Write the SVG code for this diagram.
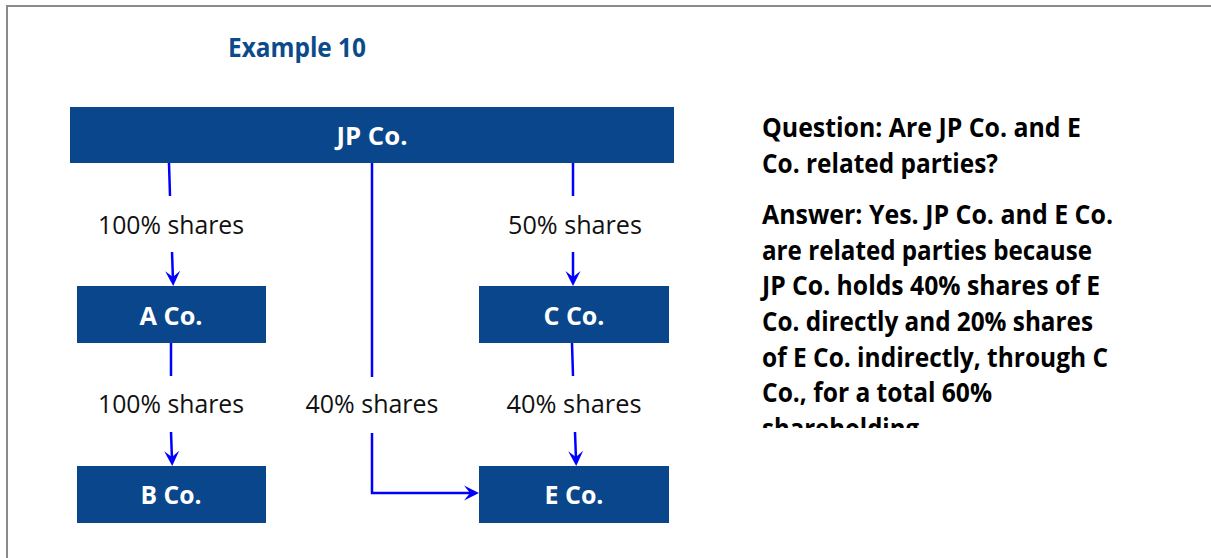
<svg xmlns="http://www.w3.org/2000/svg" width="1211" height="558" viewBox="0 0 1211 558">
  <defs>
    <style>
      .node { fill: #0a468b; }
      .node-label { font-family: "Open Sans", "Noto Sans", sans-serif; font-weight: 700; font-size: 25px; fill: #ffffff; text-anchor: middle; }
      .edge { fill: none; stroke: #0000ff; stroke-width: 2.5; }
      .edge-label { font-family: "Open Sans", "Noto Sans", sans-serif; font-size: 26px; fill: #111111; text-anchor: middle; }
      .title { font-family: "Open Sans", "Noto Sans", sans-serif; font-weight: 700; font-size: 26px; fill: #0b4a8b; text-anchor: middle; }
      .note { font-family: "Open Sans", "Noto Sans", sans-serif; font-weight: 700; font-size: 26px; fill: #000000; }
    </style>
    <marker id="arrow" markerUnits="userSpaceOnUse" viewBox="0 0 16 16" markerWidth="16" markerHeight="16" refX="10" refY="8" orient="auto">
      <path d="M16,8 L1,0.5 L7,8 L1,15.5 Z" fill="#0000ff"/>
    </marker>
    <clipPath id="note-clip">
      <rect x="740" y="100" width="471" height="328"/>
    </clipPath>
  </defs>

  <rect width="1211" height="558" fill="#ffffff"/>
  <!-- outer frame, running off the right and bottom edges -->
  <rect x="7" y="6" width="1230" height="580" fill="none" stroke="#8a8a8a" stroke-width="2"/>

  <text class="title" x="297" y="57" textLength="138" lengthAdjust="spacingAndGlyphs">Example 10</text>

  <g id="connectors">
    <!-- JP Co. to A Co. -->
    <line class="edge" x1="169" y1="163" x2="170" y2="196"/>
    <line class="edge" x1="172" y1="252" x2="173" y2="280" marker-end="url(#arrow)"/>
    <text class="edge-label" x="171" y="234" textLength="146" lengthAdjust="spacingAndGlyphs">100% shares</text>
    <!-- A Co. to B Co. -->
    <line class="edge" x1="171" y1="343" x2="171" y2="376"/>
    <line class="edge" x1="171" y1="432" x2="172" y2="460" marker-end="url(#arrow)"/>
    <text class="edge-label" x="171" y="413" textLength="146" lengthAdjust="spacingAndGlyphs">100% shares</text>
    <!-- JP Co. directly to E Co. -->
    <line class="edge" x1="372" y1="163" x2="372" y2="377"/>
    <polyline class="edge" points="372,433 372,493 473,493" marker-end="url(#arrow)"/>
    <text class="edge-label" x="372" y="413" textLength="133" lengthAdjust="spacingAndGlyphs">40% shares</text>
    <!-- JP Co. to C Co. -->
    <line class="edge" x1="573" y1="163" x2="573" y2="196"/>
    <line class="edge" x1="573" y1="252" x2="573" y2="280" marker-end="url(#arrow)"/>
    <text class="edge-label" x="575" y="234" textLength="134" lengthAdjust="spacingAndGlyphs">50% shares</text>
    <!-- C Co. to E Co. -->
    <line class="edge" x1="572" y1="343" x2="573" y2="376"/>
    <line class="edge" x1="575" y1="432" x2="576" y2="460" marker-end="url(#arrow)"/>
    <text class="edge-label" x="574" y="413" textLength="135" lengthAdjust="spacingAndGlyphs">40% shares</text>
  </g>

  <g id="node-jp">
    <rect class="node" x="70" y="107" width="604" height="56"/>
    <text class="node-label" x="372" y="145" textLength="71" lengthAdjust="spacingAndGlyphs">JP Co.</text>
  </g>
  <g id="node-a">
    <rect class="node" x="77" y="286" width="189" height="57"/>
    <text class="node-label" x="171" y="325" textLength="63" lengthAdjust="spacingAndGlyphs">A Co.</text>
  </g>
  <g id="node-c">
    <rect class="node" x="479" y="286" width="190" height="57"/>
    <text class="node-label" x="574" y="325" textLength="61" lengthAdjust="spacingAndGlyphs">C Co.</text>
  </g>
  <g id="node-b">
    <rect class="node" x="77" y="466" width="189" height="57"/>
    <text class="node-label" x="171" y="504" textLength="61" lengthAdjust="spacingAndGlyphs">B Co.</text>
  </g>
  <g id="node-e">
    <rect class="node" x="479" y="466" width="190" height="57"/>
    <text class="node-label" x="574" y="504" textLength="59" lengthAdjust="spacingAndGlyphs">E Co.</text>
  </g>

  <!-- question and answer panel, cut off at the bottom -->
  <g id="note" clip-path="url(#note-clip)">
    <text class="note" x="762" y="137" textLength="319" lengthAdjust="spacingAndGlyphs">Question: Are JP Co. and E</text>
    <text class="note" x="762" y="173" textLength="236" lengthAdjust="spacingAndGlyphs">Co. related parties?</text>
    <text class="note" x="762" y="224" textLength="351" lengthAdjust="spacingAndGlyphs">Answer: Yes. JP Co. and E Co.</text>
    <text class="note" x="762" y="259.5" textLength="330" lengthAdjust="spacingAndGlyphs">are related parties because</text>
    <text class="note" x="762" y="295" textLength="338" lengthAdjust="spacingAndGlyphs">JP Co. holds 40% shares of E</text>
    <text class="note" x="762" y="331" textLength="331" lengthAdjust="spacingAndGlyphs">Co. directly and 20% shares</text>
    <text class="note" x="762" y="366.5" textLength="346" lengthAdjust="spacingAndGlyphs">of E Co. indirectly, through C</text>
    <text class="note" x="762" y="402" textLength="230" lengthAdjust="spacingAndGlyphs">Co., for a total 60%</text>
    <text class="note" x="762" y="438" textLength="157" lengthAdjust="spacingAndGlyphs">shareholding</text>
  </g>
</svg>
